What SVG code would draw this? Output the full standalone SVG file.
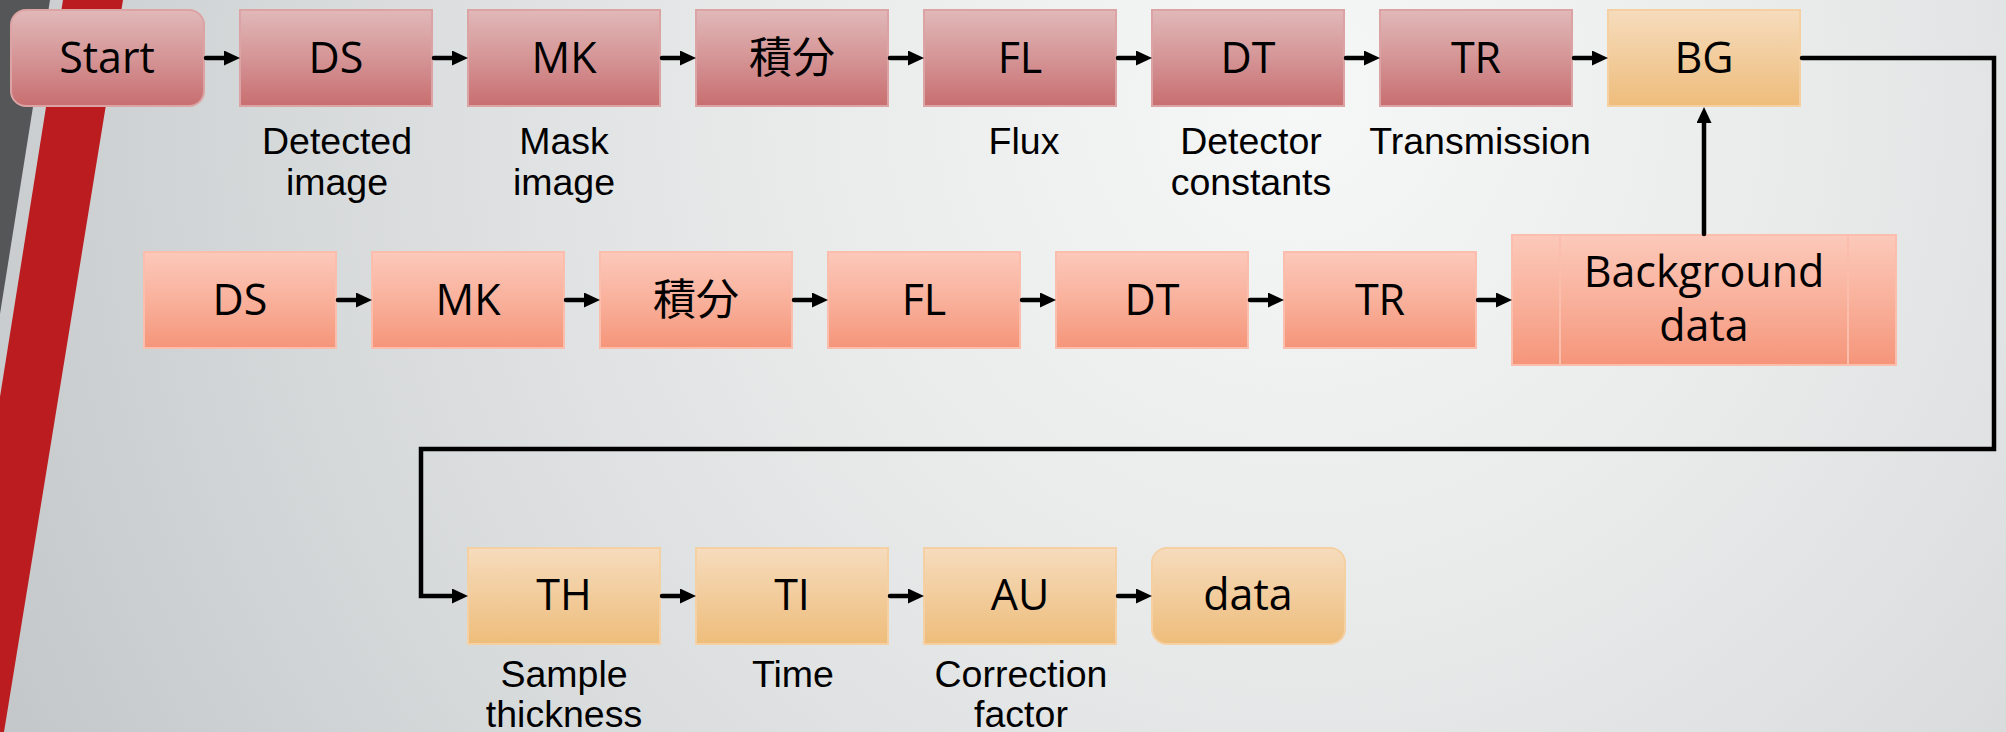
<svg xmlns="http://www.w3.org/2000/svg" width="2006" height="732" viewBox="0 0 2006 732">
  <defs>
    <radialGradient id="slideBg" gradientUnits="userSpaceOnUse" cx="1300" cy="100" r="1700">
      <stop offset="0" stop-color="#f6f7f7"/>
      <stop offset="0.3" stop-color="#e9ebeb"/>
      <stop offset="0.6" stop-color="#d6d9da"/>
      <stop offset="0.85" stop-color="#c3c7c9"/>
      <stop offset="1" stop-color="#bcc0c2"/>
    </radialGradient>
    <linearGradient id="gRed" x1="0" y1="0" x2="0" y2="1">
      <stop offset="0" stop-color="#e1b8b8"/>
      <stop offset="0.5" stop-color="#d59596"/>
      <stop offset="1" stop-color="#c86e70"/>
    </linearGradient>
    <linearGradient id="gSalmon" x1="0" y1="0" x2="0" y2="1">
      <stop offset="0" stop-color="#fcc9ba"/>
      <stop offset="0.5" stop-color="#f9b19c"/>
      <stop offset="1" stop-color="#f5957a"/>
    </linearGradient>
    <linearGradient id="gOrange" x1="0" y1="0" x2="0" y2="1">
      <stop offset="0" stop-color="#f6dcbd"/>
      <stop offset="0.5" stop-color="#f2cc9c"/>
      <stop offset="1" stop-color="#eebd7b"/>
    </linearGradient>
    <marker id="ah" markerUnits="userSpaceOnUse" markerWidth="16" markerHeight="15" refX="8" refY="7.5" orient="auto">
      <path d="M0,0 L16,7.5 L0,15 Z" fill="#000"/>
    </marker>
    <style>
      .red { fill: url(#gRed); stroke: #dba3a4; stroke-width: 2; }
      .salmon { fill: url(#gSalmon); stroke: #fbbdac; stroke-width: 2; }
      .orange { fill: url(#gOrange); stroke: #f5d0a3; stroke-width: 2; }
      .nt { font-family: "Open Sans", "Noto Sans", sans-serif; font-size: 43px; fill: #000; text-anchor: middle; }
      .cjk { font-family: "Noto Sans CJK JP", "Noto Sans CJK SC", sans-serif; font-size: 43px; fill: #000; text-anchor: middle; }
      .lbl { font-family: "Liberation Sans", Arial, sans-serif; font-size: 37.5px; fill: #000; text-anchor: middle; }
      .conn { fill: none; stroke: #000; stroke-width: 4.5; stroke-linecap: round; stroke-linejoin: miter; }
    </style>
  </defs>

  <!-- slide backdrop with the left-hand stripes -->
  <rect x="0" y="0" width="2006" height="732" fill="url(#slideBg)"/>
  <polygon points="0,0 50,0 0,314" fill="#555657"/>
  <polygon points="63,0 123,0 4,732 0,732 0,397" fill="#bb1c1f"/>

  <!-- row 1: main chain -->
  <g id="n-start"><rect class="red" x="11" y="10" width="193" height="96" rx="15"/><text class="nt" x="107" y="73">Start</text></g>
  <g id="n-ds1"><rect class="red" x="240" y="10" width="192" height="96"/><text class="nt" x="336" y="73">DS</text>
    <text class="lbl" x="337" y="154">Detected</text><text class="lbl" x="337" y="195">image</text></g>
  <g id="n-mk1"><rect class="red" x="468" y="10" width="192" height="96"/><text class="nt" x="564" y="73">MK</text>
    <text class="lbl" x="564" y="154">Mask</text><text class="lbl" x="564" y="195">image</text></g>
  <g id="n-int1"><rect class="red" x="696" y="10" width="192" height="96"/><text class="cjk" x="792" y="73">積分</text></g>
  <g id="n-fl1"><rect class="red" x="924" y="10" width="192" height="96"/><text class="nt" x="1020" y="73">FL</text>
    <text class="lbl" x="1024" y="154">Flux</text></g>
  <g id="n-dt1"><rect class="red" x="1152" y="10" width="192" height="96"/><text class="nt" x="1248" y="73">DT</text>
    <text class="lbl" x="1251" y="154">Detector</text><text class="lbl" x="1251" y="195">constants</text></g>
  <g id="n-tr1"><rect class="red" x="1380" y="10" width="192" height="96"/><text class="nt" x="1476" y="73">TR</text>
    <text class="lbl" x="1480" y="154">Transmission</text></g>
  <g id="n-bg"><rect class="orange" x="1608" y="10" width="192" height="96"/><text class="nt" x="1704" y="73">BG</text></g>

  <!-- row 2: background chain -->
  <g id="n-ds2"><rect class="salmon" x="144" y="252" width="192" height="96"/><text class="nt" x="240" y="315">DS</text></g>
  <g id="n-mk2"><rect class="salmon" x="372" y="252" width="192" height="96"/><text class="nt" x="468" y="315">MK</text></g>
  <g id="n-int2"><rect class="salmon" x="600" y="252" width="192" height="96"/><text class="cjk" x="696" y="315">積分</text></g>
  <g id="n-fl2"><rect class="salmon" x="828" y="252" width="192" height="96"/><text class="nt" x="924" y="315">FL</text></g>
  <g id="n-dt2"><rect class="salmon" x="1056" y="252" width="192" height="96"/><text class="nt" x="1152" y="315">DT</text></g>
  <g id="n-tr2"><rect class="salmon" x="1284" y="252" width="192" height="96"/><text class="nt" x="1380" y="315">TR</text></g>
  <g id="n-bgdata"><rect class="salmon" x="1512" y="235" width="384" height="130"/>
    <line x1="1560" y1="235" x2="1560" y2="365" stroke="#fbbdac" stroke-width="2"/>
    <line x1="1848" y1="235" x2="1848" y2="365" stroke="#fbbdac" stroke-width="2"/>
    <text class="nt" x="1704" y="287">Background</text><text class="nt" x="1704" y="341">data</text></g>

  <!-- row 3: corrections -->
  <g id="n-th"><rect class="orange" x="468" y="548" width="192" height="96"/><text class="nt" x="564" y="610">TH</text>
    <text class="lbl" x="564" y="687">Sample</text><text class="lbl" x="564" y="727">thickness</text></g>
  <g id="n-ti"><rect class="orange" x="696" y="548" width="192" height="96"/><text class="nt" x="792" y="610">TI</text>
    <text class="lbl" x="793" y="687">Time</text></g>
  <g id="n-au"><rect class="orange" x="924" y="548" width="192" height="96"/><text class="nt" x="1020" y="610">AU</text>
    <text class="lbl" x="1021" y="687">Correction</text><text class="lbl" x="1021" y="727">factor</text></g>
  <g id="n-data"><rect class="orange" x="1152" y="548" width="193" height="96" rx="15"/><text class="nt" x="1248" y="610">data</text></g>

  <!-- connectors -->
  <g id="connectors">
    <path class="conn" marker-end="url(#ah)" d="M206,58 H232"/>
    <path class="conn" marker-end="url(#ah)" d="M434,58 H460"/>
    <path class="conn" marker-end="url(#ah)" d="M662,58 H688"/>
    <path class="conn" marker-end="url(#ah)" d="M890,58 H916"/>
    <path class="conn" marker-end="url(#ah)" d="M1118,58 H1144"/>
    <path class="conn" marker-end="url(#ah)" d="M1346,58 H1372"/>
    <path class="conn" marker-end="url(#ah)" d="M1574,58 H1600"/>

    <path class="conn" marker-end="url(#ah)" d="M338,300 H364"/>
    <path class="conn" marker-end="url(#ah)" d="M566,300 H592"/>
    <path class="conn" marker-end="url(#ah)" d="M794,300 H820"/>
    <path class="conn" marker-end="url(#ah)" d="M1022,300 H1048"/>
    <path class="conn" marker-end="url(#ah)" d="M1250,300 H1276"/>
    <path class="conn" marker-end="url(#ah)" d="M1478,300 H1504"/>

    <path class="conn" marker-end="url(#ah)" d="M1704,234 V115"/>
    <path class="conn" marker-end="url(#ah)" d="M1802,58 H1994 V449 H421 V596 H460"/>

    <path class="conn" marker-end="url(#ah)" d="M662,596 H688"/>
    <path class="conn" marker-end="url(#ah)" d="M890,596 H916"/>
    <path class="conn" marker-end="url(#ah)" d="M1118,596 H1144"/>
  </g>
</svg>
